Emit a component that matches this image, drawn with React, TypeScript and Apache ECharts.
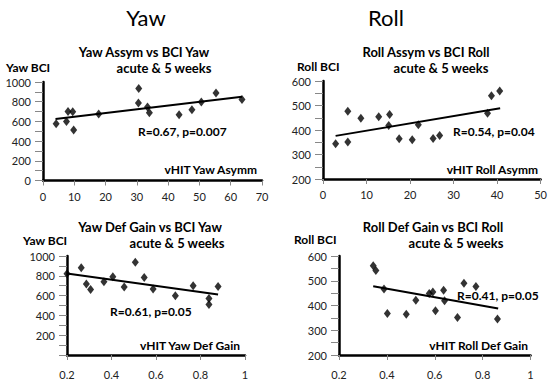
import React, { useEffect, useRef } from "react";
import * as echarts from "echarts";

// Panel 1: Yaw asymmetry vs Yaw BCI
const yawAsymX = [4.2, 7.5, 8.0, 9.5, 9.8, 17.8, 30.5, 30.6, 33.4, 34.0, 43.5, 47.6, 50.6, 55.3, 63.6];
const yawAsymY = [576, 600, 701, 698, 512, 675, 786, 935, 746, 688, 668, 718, 797, 888, 823];
const yawAsymFitX = [4, 63.6];
const yawAsymFitY = [624, 850];

// Panel 2: Roll asymmetry vs Roll BCI
const rollAsymX = [2.9, 5.7, 5.7, 8.7, 12.8, 15.3, 15.1, 17.5, 20.5, 21.9, 25.3, 26.8, 37.8, 38.7, 40.6];
const rollAsymY = [344, 351, 477, 448, 454, 463, 418, 364, 360, 421, 365, 378, 468, 540, 559];
const rollAsymFitX = [2.9, 40.7];
const rollAsymFitY = [376, 489];

// Panel 3: Yaw deficit gain vs Yaw BCI
const yawGainX = [0.2, 0.264, 0.287, 0.306, 0.366, 0.406, 0.457, 0.507, 0.547, 0.587, 0.687, 0.767, 0.838, 0.838, 0.879];
const yawGainY = [821, 882, 716, 662, 740, 791, 686, 936, 784, 666, 598, 699, 571, 510, 693];
const yawGainFitX = [0.2, 0.879];
const yawGainFitY = [824, 611];

// Panel 4: Roll deficit gain vs Roll BCI
const rollGainX = [0.343, 0.354, 0.388, 0.402, 0.481, 0.521, 0.577, 0.592, 0.603, 0.637, 0.641, 0.695, 0.722, 0.772, 0.862];
const rollGainY = [561, 541, 467, 368, 365, 421, 448, 455, 379, 462, 419, 352, 490, 477, 345];
const rollGainFitX = [0.343, 0.865];
const rollGainFitY = [478, 388];

const headers = ["Yaw", "Roll"];
const panelTitles = [
  ["Yaw Assym vs BCI Yaw", "acute & 5 weeks"],
  ["Roll Assym vs BCI Roll", "acute & 5 weeks"],
  ["Yaw Def Gain vs BCI Yaw", "acute & 5 weeks"],
  ["Roll Def Gain vs BCI Roll", "acute & 5 weeks"],
];
const yNames = ["Yaw BCI", "Roll BCI", "Yaw BCI", "Roll BCI"];
const xNames = ["vHIT Yaw Asymm", "vHIT Roll Asymm", "vHIT Yaw Def Gain", "vHIT Roll Def Gain"];
const stats = ["R=0.67, p=0.007", "R=0.54, p=0.04", "R=0.61, p=0.05", "R=0.41, p=0.05"];

const FONT = "Lato";

const zip = (xs: number[], ys: number[]) => xs.map((x, i) => [x, ys[i]]);

export default function App() {
  const ref = useRef<HTMLDivElement>(null);
  useEffect(() => {
    if (!ref.current) return;
    const chart = echarts.init(ref.current, null, { renderer: "svg" });

    const grids = [
      { left: 43, top: 82, width: 219, height: 98.5 },
      { left: 323, top: 81, width: 220.5, height: 98 },
      { left: 67, top: 256, width: 178, height: 99 },
      { left: 339, top: 256, width: 191.5, height: 99 },
    ];
    const xRanges = [
      { min: 0, max: 70, interval: 10 },
      { min: 0, max: 50, interval: 10 },
      { min: 0.2, max: 1, interval: 0.2 },
      { min: 0.2, max: 1, interval: 0.2 },
    ];
    const yRanges = [
      { min: 0, max: 1000, interval: 200, hideMin: false },
      { min: 200, max: 600, interval: 100, hideMin: false },
      { min: 0, max: 1000, interval: 200, hideMin: true },
      { min: 200, max: 600, interval: 100, hideMin: false },
    ];
    const labelMargins = [10, 10, 14, 14];

    const xAxis = xRanges.map((r, i) => ({
      type: "value",
      gridIndex: i,
      min: r.min,
      max: r.max,
      interval: r.interval,
      splitLine: { show: false },
      axisLine: { show: true, onZero: false, lineStyle: { color: "#000", width: 2.5 } },
      axisTick: { show: true, length: 5, lineStyle: { color: "#888", width: 1 } },
      axisLabel: {
        margin: labelMargins[i],
        color: "#222",
        fontFamily: FONT,
        fontSize: 11,
        formatter: (v: number) => String(Math.round(v * 10) / 10),
      },
    }));
    const yAxis = yRanges.map((r, i) => ({
      type: "value",
      gridIndex: i,
      min: r.min,
      max: r.max,
      interval: r.interval,
      splitLine: { show: false },
      axisLine: { show: true, onZero: false, lineStyle: { color: "#000", width: 2.5 } },
      axisTick: { show: true, length: 8, lineStyle: { color: "#888", width: 1 } },
      minorTick: { show: true, splitNumber: 2, length: 8, lineStyle: { color: "#888", width: 1 } },
      axisLabel: {
        margin: 12,
        color: "#222",
        fontFamily: FONT,
        fontSize: 11,
        formatter: (v: number) => (r.hideMin && v === r.min ? "" : String(v)),
      },
    }));

    const pts = [
      zip(yawAsymX, yawAsymY),
      zip(rollAsymX, rollAsymY),
      zip(yawGainX, yawGainY),
      zip(rollGainX, rollGainY),
    ];
    const fits = [
      zip(yawAsymFitX, yawAsymFitY),
      zip(rollAsymFitX, rollAsymFitY),
      zip(yawGainFitX, yawGainFitY),
      zip(rollGainFitX, rollGainFitY),
    ];
    const series: any[] = [];
    for (let i = 0; i < 4; i++) {
      series.push({
        type: "line",
        xAxisIndex: i,
        yAxisIndex: i,
        data: fits[i],
        showSymbol: false,
        lineStyle: { color: "#000", width: 2 },
        z: 2,
      });
      series.push({
        type: "scatter",
        xAxisIndex: i,
        yAxisIndex: i,
        data: pts[i],
        symbol: "diamond",
        symbolSize: [7, 9],
        itemStyle: { color: "#000" },
        z: 3,
      });
    }

    const txt = (x: number, y: number, text: string, size: number, bold: boolean, align = "center") => ({
      type: "text",
      x,
      y,
      style: {
        text,
        fill: "#000",
        font: `${bold ? "bold " : ""}${size}px ${FONT}`,
        textAlign: align,
        textVerticalAlign: "middle",
      },
    });

    const graphic: any[] = [
      txt(146, 17, headers[0], 22, false),
      txt(386, 17, headers[1], 22, false),
      // titles
      txt(144, 52, panelTitles[0][0], 13, true),
      txt(164, 68, panelTitles[0][1], 13, true),
      txt(426, 52, panelTitles[1][0], 13, true),
      txt(441, 68, panelTitles[1][1], 13, true),
      txt(150, 227, panelTitles[2][0], 13, true),
      txt(177, 243, panelTitles[2][1], 13, true),
      txt(433, 227, panelTitles[3][0], 13, true),
      txt(456, 243, panelTitles[3][1], 13, true),
      // y names
      txt(6, 67, yNames[0], 12, true, "left"),
      txt(297, 66, yNames[1], 12, true, "left"),
      txt(23, 240, yNames[2], 12, true, "left"),
      txt(294, 239, yNames[3], 12, true, "left"),
      // x names
      txt(257, 169, xNames[0], 12, true, "right"),
      txt(538, 169, xNames[1], 12, true, "right"),
      txt(240, 345, xNames[2], 12, true, "right"),
      txt(528, 345, xNames[3], 12, true, "right"),
      // stats
      txt(138, 131, stats[0], 12, true, "left"),
      txt(453, 131, stats[1], 12, true, "left"),
      txt(110, 311, stats[2], 12, true, "left"),
      txt(457, 295, stats[3], 12, true, "left"),
    ];

    chart.setOption({
      animation: false,
      backgroundColor: "#fff",
      grid: grids,
      xAxis,
      yAxis,
      series,
      graphic,
    });
    return () => chart.dispose();
  }, []);

  return (
    <div
      ref={ref}
      style={{ position: "absolute", left: 0, top: 0, width: 550, height: 383 }}
    />
  );
}
